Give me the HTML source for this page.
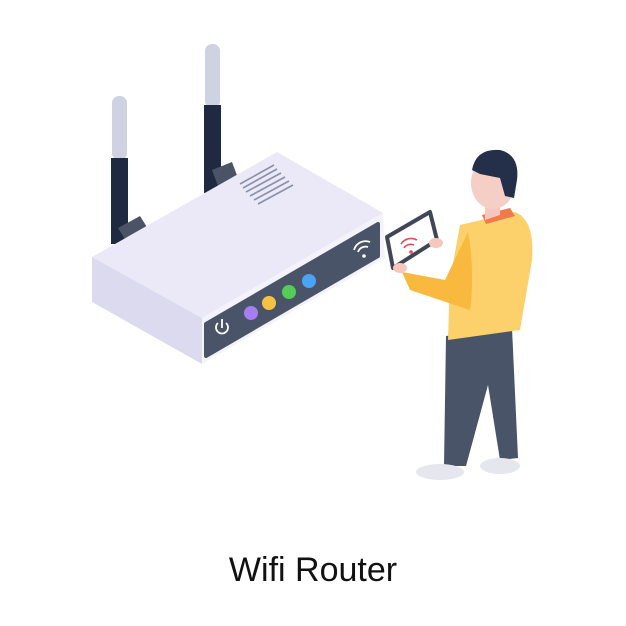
<!DOCTYPE html>
<html><head><style>
body{margin:0;background:#fff;width:626px;height:626px;overflow:hidden}
.t{position:absolute;left:0;width:626px;top:551px;text-align:center;font-family:"Liberation Sans",sans-serif;font-size:34px;color:#111}
</style></head><body>
<svg width="626" height="626" style="position:absolute;left:0;top:0">
<rect x="112" y="96" width="15" height="64" rx="7" fill="#cfd2e0"/>
<rect x="111" y="158" width="17" height="86" fill="#1f2a40"/>
<rect x="205" y="44" width="15" height="64" rx="7" fill="#cfd2e0"/>
<rect x="204" y="105" width="17" height="88" fill="#1f2a40"/>
<polygon points="118,228 140,216 150,232 128,244" fill="#4b5366"/>
<polygon points="212,170 232,162 238,178 218,186" fill="#4b5366"/>
<polygon points="92,257 277,152 383,213 202,318" fill="#ebe9f8"/>
<polygon points="92,257 202,318 202,364 92,302" fill="#dcdaef"/>
<polygon points="202,318 383,213 385,258 202,364" fill="#f4f3fb"/>
<polygon points="206,324 378,224 378,256 206,356" fill="#4a5468" stroke="#4a5468" stroke-width="4" stroke-linejoin="round"/>
<g stroke="#8a8fa8" stroke-width="1.6">
<line x1="240" y1="184" x2="274" y2="165"/><line x1="243" y1="188" x2="277" y2="169"/>
<line x1="246" y1="192" x2="281" y2="173"/><line x1="250" y1="196" x2="285" y2="177"/>
<line x1="254" y1="200" x2="289" y2="181"/><line x1="258" y1="204" x2="293" y2="185"/>
</g>
<circle cx="251" cy="313" r="7" fill="#a77ef0"/>
<circle cx="269" cy="303" r="7" fill="#f7c244"/>
<circle cx="289" cy="292" r="7" fill="#55cc55"/>
<circle cx="309" cy="281" r="7" fill="#4aa3f5"/>
<g stroke="#fff" fill="none" stroke-width="1.8">
<path d="M218 323 a6 6 0 1 0 8 0"/><line x1="222" y1="319" x2="222" y2="328"/>
<path d="M354 250 a12 12 0 0 1 16 -8"/><path d="M358 252 a8 8 0 0 1 10 -5"/>
</g>
<circle cx="364" cy="256" r="1.8" fill="#fff"/>
<!-- person -->
<path d="M446 336 L512 328 L518 458 L500 460 L488 385 L466 466 L444 466 Z" fill="#4a5468"/>
<ellipse cx="440" cy="472" rx="24" ry="8" fill="#e5e6ee"/>
<ellipse cx="500" cy="466" rx="20" ry="8" fill="#e5e6ee"/>
<path d="M460 225 L515 212 Q535 220 532 260 L520 330 L448 340 L450 280 Z" fill="#fcd06a"/>
<path d="M482 215 L510 208 L515 216 L486 224 Z" fill="#f07a4a"/>
<path d="M485 190 L500 195 L500 215 L485 220 Z" fill="#f5c7bd"/>
<path d="M468 232 Q475 270 470 310 L410 290 L402 272 L445 280 Z" fill="#f9b83e"/>
<ellipse cx="493" cy="183" rx="22" ry="26" fill="#f5cfc6"/>
<path d="M472 170 Q476 148 500 150 Q520 155 517 180 L514 198 L505 196 L500 178 L480 174 Z" fill="#24304a"/>
<polygon points="387,237 430,212 437,240 393,268" fill="#fff" stroke="#3e4658" stroke-width="4" stroke-linejoin="round"/>
<g stroke="#e34e5a" fill="none" stroke-width="1.6"><path d="M401 244 a12 12 0 0 1 16 -4"/><path d="M404 248 a8 8 0 0 1 10 -3"/></g>
<circle cx="411" cy="252" r="1.8" fill="#e34e5a"/>
<ellipse cx="436" cy="243" rx="7" ry="5" fill="#f5c7bd"/>
<ellipse cx="400" cy="268" rx="7" ry="5" fill="#f5c7bd"/>
</svg>
<div class="t">Wifi Router</div>
</body></html>
